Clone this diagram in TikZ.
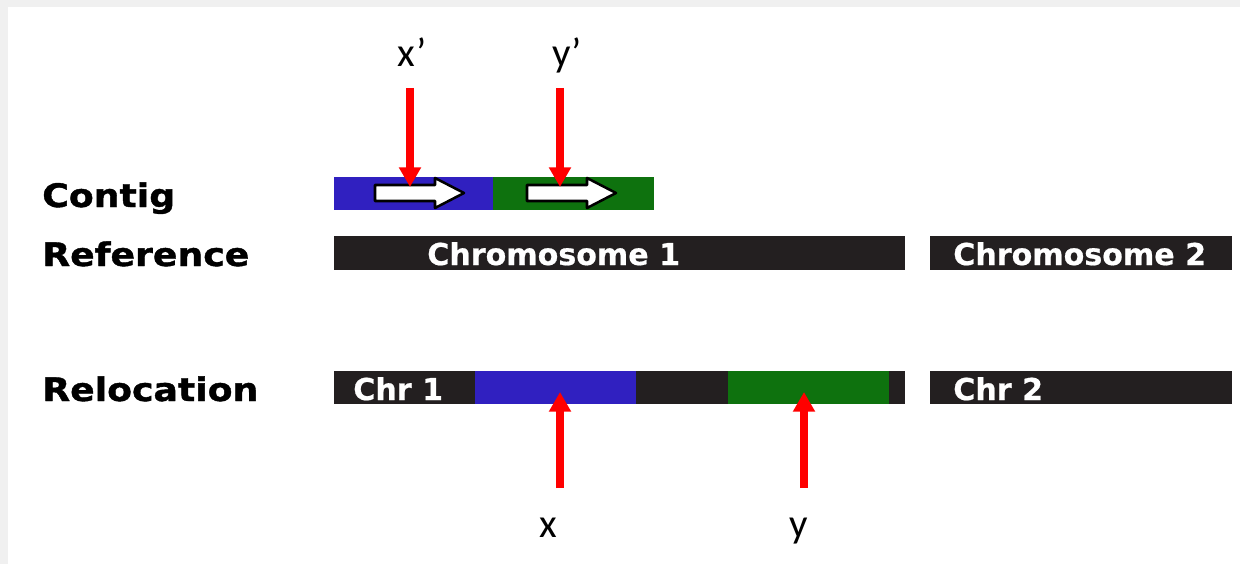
\documentclass[tikz,border=0pt]{standalone}
\usepackage{fontspec}
\newfontfamily\rowfont[FakeStretch=1.12,FakeBold=1.2]{DejaVu Sans}
\newfontfamily\chrfont[FakeBold=0.6]{DejaVu Sans}
\newfontfamily\markfont{Carlito}
\usetikzlibrary{arrows.meta}
\definecolor{chrblack}{HTML}{231F20}
\definecolor{segblue}{HTML}{3020C0}
\definecolor{seggreen}{HTML}{0E720E}
\definecolor{bggray}{HTML}{F0F0F0}

\begin{document}
\begin{tikzpicture}[x=0.025cm, y=-0.025cm,
  rowlabel/.style={anchor=base west, inner sep=0, font=\rowfont\bfseries\fontsize{23}{26}\selectfont},
  chrlabel/.style={anchor=base west, inner sep=0, text=white, font=\chrfont\bfseries\fontsize{21.4}{24}\selectfont},
  marklabel/.style={anchor=base, inner sep=0, font=\markfont\fontsize{29}{32}\selectfont},
  redarrow/.style={red, line width=5pt, -{Triangle[width=15pt,length=14pt]}},
  strandarrow/.style={fill=white, draw=black, line width=1.8pt, line join=round}]
  \useasboundingbox (0,0) rectangle (1240,564);
  \fill[bggray] (0,0) rectangle (1240,564);
  \fill[white] (8,7) rectangle (1240,564);

  % contig
  \fill[segblue] (334,177) rectangle (493,210);
  \fill[seggreen] (493,177) rectangle (654,210);
  \foreach \s in {375,527}
    \draw[strandarrow] (\s,185) -- ++(60,0) -- ++(0,-7) -- ++(29,15) -- ++(-29,15) -- ++(0,-7) -- (\s,201) -- cycle;

  % reference
  \fill[chrblack] (334,236) rectangle (905,270);
  \fill[chrblack] (930,236) rectangle (1232,270);

  % relocation
  \fill[chrblack] (334,371) rectangle (905,404);
  \fill[segblue] (475,371) rectangle (636,404);
  \fill[seggreen] (728,371) rectangle (889,404);
  \fill[chrblack] (930,371) rectangle (1232,404);

  \node[rowlabel] (contig) at (42,207) {Contig};
  \node[rowlabel] (reference) at (42,266) {Reference};
  \node[rowlabel] (relocation) at (42,401) {Relocation};

  \node[chrlabel] (chromA) at (427,265) {Chromosome 1};
  \node[chrlabel] (chromB) at (953,265) {Chromosome 2};
  \node[chrlabel] (chrA) at (353,400) {Chr 1};
  \node[chrlabel] (chrB) at (953,400) {Chr 2};

  % break points
  \node[marklabel] (xp) at (412,67) {x’};
  \node[marklabel] (yp) at (567,67) {y’};
  \node[marklabel] (xr) at (548,537) {x};
  \node[marklabel] (yr) at (799,537) {y};
  \coordinate (xptop) at (410,88);
  \coordinate (xpend) at (410,187);
  \coordinate (yptop) at (560,88);
  \coordinate (ypend) at (560,187);
  \coordinate (xrbot) at (560,488);
  \coordinate (xrend) at (560,392);
  \coordinate (yrbot) at (804,488);
  \coordinate (yrend) at (804,392);
  \draw[redarrow] (xptop) -- (xpend);
  \draw[redarrow] (yptop) -- (ypend);
  \draw[redarrow] (xrbot) -- (xrend);
  \draw[redarrow] (yrbot) -- (yrend);
\end{tikzpicture}
\end{document}
